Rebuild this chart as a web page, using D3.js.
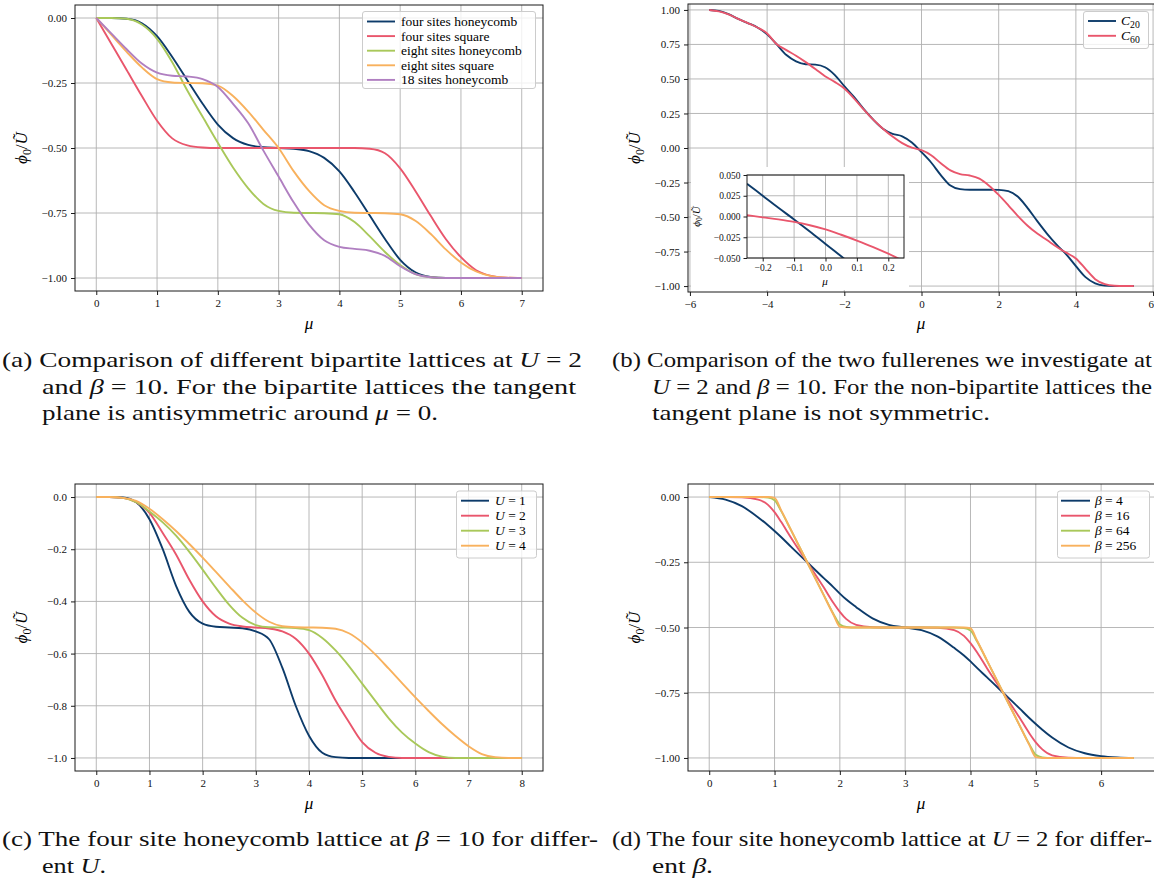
<!DOCTYPE html>
<html><head><meta charset="utf-8">
<script src="https://cdn.jsdelivr.net/npm/d3@7"></script>
<style>body{margin:0;background:#fff}svg{display:block}svg text{font-family:"Liberation Serif","Times New Roman",serif}</style>
</head><body><svg id="fig" width="1154" height="884"></svg>
<script>
// ---------------- DATA ----------------
// Panel (a): bipartite lattices, U = 2, beta = 10
const muA = [0,0.25,0.5,0.75,1,1.25,1.5,1.75,2,2.25,2.5,2.75,3,3.25,3.5,3.75,4,4.25,4.5,4.75,5,5.25,5.5,5.75,6,6.25,6.5,6.75,7];
const namesA = ["four sites honeycomb","four sites square","eight sites honeycomb","eight sites square","18 sites honeycomb"];
const fourHoneycomb = [0,0,-0.003,-0.02,-0.07,-0.15,-0.24,-0.33,-0.41,-0.462,-0.488,-0.497,-0.5,-0.503,-0.512,-0.538,-0.59,-0.67,-0.76,-0.85,-0.93,-0.978,-0.996,-1,-1,-1,-1,-1,-1];
const fourSquare = [0,-0.1,-0.2,-0.3,-0.395,-0.463,-0.49,-0.498,-0.5,-0.5,-0.5,-0.5,-0.5,-0.5,-0.5,-0.5,-0.5,-0.5,-0.503,-0.52,-0.578,-0.665,-0.76,-0.85,-0.92,-0.97,-0.992,-0.999,-1];
const eightHoneycomb = [0,0,-0.003,-0.025,-0.08,-0.17,-0.28,-0.38,-0.48,-0.575,-0.655,-0.715,-0.742,-0.749,-0.75,-0.751,-0.755,-0.785,-0.84,-0.9,-0.95,-0.985,-0.997,-1,-1,-1,-1,-1,-1];
const eightSquare = [0,-0.065,-0.13,-0.19,-0.235,-0.248,-0.25,-0.251,-0.26,-0.3,-0.36,-0.43,-0.5,-0.59,-0.665,-0.72,-0.742,-0.749,-0.75,-0.751,-0.755,-0.78,-0.83,-0.89,-0.94,-0.975,-0.993,-0.999,-1];
const sites18Honeycomb = [0,-0.06,-0.12,-0.175,-0.21,-0.222,-0.225,-0.235,-0.265,-0.33,-0.405,-0.51,-0.61,-0.71,-0.795,-0.855,-0.88,-0.888,-0.895,-0.915,-0.955,-0.985,-0.997,-1,-1,-1,-1,-1,-1];

// Panel (b): fullerenes
const muB = [-5.5,-5.25,-5,-4.75,-4.5,-4.25,-4,-3.75,-3.5,-3.25,-3,-2.75,-2.5,-2.25,-2,-1.75,-1.5,-1.25,-1,-0.75,-0.5,-0.25,0,0.25,0.5,0.75,1,1.25,1.5,1.75,2,2.25,2.5,2.75,3,3.25,3.5,3.75,4,4.25,4.5,4.75,5,5.25,5.5];
const fullereneSizes = ["20","60"];
const c20 = [1,0.993,0.97,0.935,0.905,0.873,0.823,0.75,0.673,0.628,0.607,0.604,0.585,0.53,0.448,0.37,0.283,0.205,0.14,0.103,0.085,0.04,-0.03,-0.105,-0.196,-0.272,-0.298,-0.302,-0.302,-0.302,-0.303,-0.312,-0.353,-0.435,-0.53,-0.62,-0.7,-0.77,-0.855,-0.935,-0.98,-0.997,-1,-1,-1];
const c60 = [1,0.99,0.968,0.935,0.905,0.873,0.83,0.752,0.709,0.668,0.622,0.572,0.52,0.479,0.431,0.36,0.28,0.205,0.14,0.083,0.035,0.002,-0.016,-0.052,-0.11,-0.162,-0.189,-0.199,-0.222,-0.273,-0.34,-0.415,-0.493,-0.563,-0.62,-0.667,-0.715,-0.758,-0.8,-0.875,-0.95,-0.986,-0.998,-1,-1];
// inset of (b)
const muInset20 = [-0.25,-0.2,-0.15,-0.1,-0.05,0,0.05,0.1];
const c20Inset = [0.0395,0.025,0.0105,-0.0035,-0.018,-0.033,-0.048,-0.063];
const muInset60 = [-0.25,-0.2,-0.15,-0.1,-0.05,0,0.05,0.1,0.15,0.2,0.25];
const c60Inset = [0.0016,-0.001,-0.0035,-0.0065,-0.0105,-0.0155,-0.022,-0.029,-0.0365,-0.0448,-0.054];

// Panel (c): four site honeycomb, beta = 10, different U
const muC = [0,0.25,0.5,0.75,1,1.25,1.5,1.75,2,2.25,2.5,2.75,3,3.25,3.5,3.75,4,4.25,4.5,4.75,5,5.25,5.5,5.75,6,6.25,6.5,6.75,7,7.25,7.5,7.75,8];
const uValues = [1,2,3,4];
const u1 = [0,0,-0.002,-0.02,-0.085,-0.2,-0.34,-0.44,-0.485,-0.497,-0.5,-0.503,-0.515,-0.545,-0.655,-0.8,-0.915,-0.98,-0.997,-1,-1,-1,-1,-1,-1,-1,-1,-1,-1,-1,-1,-1,-1];
const u2 = [0,0,-0.003,-0.02,-0.061,-0.138,-0.22,-0.317,-0.4,-0.457,-0.485,-0.496,-0.5,-0.504,-0.515,-0.543,-0.6,-0.683,-0.78,-0.862,-0.939,-0.98,-0.996,-1,-1,-1,-1,-1,-1,-1,-1,-1,-1];
const u3 = [0,0,-0.003,-0.02,-0.055,-0.097,-0.148,-0.21,-0.278,-0.348,-0.413,-0.463,-0.491,-0.499,-0.5,-0.502,-0.51,-0.54,-0.588,-0.648,-0.715,-0.782,-0.848,-0.903,-0.945,-0.978,-0.995,-1,-1,-1,-1,-1,-1];
const u4 = [0,0,-0.003,-0.015,-0.045,-0.085,-0.13,-0.18,-0.232,-0.287,-0.342,-0.396,-0.443,-0.478,-0.495,-0.499,-0.5,-0.501,-0.505,-0.522,-0.557,-0.604,-0.658,-0.713,-0.768,-0.82,-0.87,-0.915,-0.955,-0.985,-0.997,-1,-1];

// Panel (d): four site honeycomb, U = 2, different beta
const muD = [0,0.25,0.5,0.75,0.9,1,1.1,1.25,1.5,1.75,1.9,2,2.1,2.25,2.5,2.75,3,3.25,3.5,3.75,3.9,4,4.1,4.25,4.5,4.75,4.9,5,5.1,5.25,5.5,5.75,6,6.25,6.5];
const betaValues = [4,16,64,256];
const beta4 = [0,-0.01,-0.035,-0.078,-0.108,-0.13,-0.153,-0.19,-0.25,-0.31,-0.345,-0.37,-0.393,-0.422,-0.465,-0.49,-0.5,-0.51,-0.535,-0.578,-0.607,-0.63,-0.655,-0.69,-0.75,-0.81,-0.847,-0.87,-0.892,-0.922,-0.96,-0.982,-0.993,-0.998,-1];
const beta16 = [0,0,-0.001,-0.01,-0.03,-0.058,-0.095,-0.155,-0.25,-0.345,-0.405,-0.44,-0.468,-0.49,-0.499,-0.5,-0.5,-0.5,-0.501,-0.51,-0.532,-0.56,-0.595,-0.655,-0.75,-0.845,-0.905,-0.94,-0.967,-0.99,-0.999,-1,-1,-1,-1];
const beta64 = [0,0,0,0,-0.002,-0.012,-0.053,-0.126,-0.25,-0.374,-0.447,-0.488,-0.498,-0.5,-0.5,-0.5,-0.5,-0.5,-0.5,-0.5,-0.502,-0.512,-0.553,-0.626,-0.75,-0.874,-0.947,-0.988,-0.998,-1,-1,-1,-1,-1,-1];
const beta256 = [0,0,0,0,0,-0.003,-0.05,-0.125,-0.25,-0.375,-0.45,-0.497,-0.5,-0.5,-0.5,-0.5,-0.5,-0.5,-0.5,-0.5,-0.5,-0.503,-0.55,-0.625,-0.75,-0.875,-0.95,-0.997,-1,-1,-1,-1,-1,-1,-1];

// tick values
const xTicksA = [0,1,2,3,4,5,6,7];
const yTicksA = [0,-0.25,-0.5,-0.75,-1];
const xTicksB = [-6,-4,-2,0,2,4,6];
const yTicksB = [1,0.75,0.5,0.25,0,-0.25,-0.5,-0.75,-1];
const xTicksC = [0,1,2,3,4,5,6,7,8];
const yTicksC = [0,-0.2,-0.4,-0.6,-0.8,-1];
const xTicksD = [0,1,2,3,4,5,6];
const yTicksD = [0,-0.25,-0.5,-0.75,-1];
const xTicksInset = [-0.2,-0.1,0,0.1,0.2];
const yTicksInset = [0.05,0.025,0,-0.025,-0.05];

// captions ($...$ = italic math)
const captionA = ["(a) Comparison of different bipartite lattices at $U$ = 2","and $β$ = 10. For the bipartite lattices the tangent","plane is antisymmetric around $μ$ = 0."];
const captionB = ["(b) Comparison of the two fullerenes we investigate at","$U$ = 2 and $β$ = 10. For the non-bipartite lattices the","tangent plane is not symmetric."];
const captionC = ["(c) The four site honeycomb lattice at $β$ = 10 for differ-","ent $U$."];
const captionD = ["(d) The four site honeycomb lattice at $U$ = 2 for differ-","ent $β$."];

// ---------------- DRAWING ----------------
const SERIF = "Liberation Serif, Times New Roman, serif";
const COL = {blue:"#0d3b6a", red:"#e9566c", green:"#a9c85a", orange:"#f8b15d", purple:"#b07fc1"};
const PAL = [COL.blue, COL.red, COL.green, COL.orange, COL.purple];
const svg = d3.select("#fig");
svg.append("rect").attr("width",1154).attr("height",884).attr("fill","#fff");

function rich(t, str){
  str.split("$").forEach((seg,i)=>{ if(seg) t.append("tspan").attr("font-style", i%2 ? "italic" : null).text(seg); });
}
function phiLabel(t, fs){
  t.append("tspan").attr("font-style","italic").text("ϕ");
  t.append("tspan").attr("font-size", fs*0.7).attr("dy", fs*0.22).text("0");
  t.append("tspan").attr("dy", -fs*0.22).text("/");
  t.append("tspan").attr("font-style","italic").text("Ũ");
}

function drawPanel(o){
  const g = svg.append("g");
  const x = d3.scaleLinear().domain(o.xDomain).range([o.left, o.right]);
  const y = d3.scaleLinear().domain(o.yDomain).range([o.bottom, o.top]);
  const cid = "clip-" + o.id;
  svg.append("clipPath").attr("id", cid).append("rect")
    .attr("x", o.left).attr("y", o.top).attr("width", o.right-o.left).attr("height", o.bottom-o.top);
  if (o.bg) g.append("rect").attr("x",o.bg[0]).attr("y",o.bg[1]).attr("width",o.bg[2]).attr("height",o.bg[3]).attr("fill","#fff");
  // grid
  g.append("g").selectAll("line").data(o.xTicks).join("line")
    .attr("x1",d=>x(d)).attr("x2",d=>x(d)).attr("y1",o.top).attr("y2",o.bottom)
    .attr("stroke","#b0b0b0").attr("stroke-width",0.9);
  g.append("g").selectAll("line").data(o.yTicks).join("line")
    .attr("y1",d=>y(d)).attr("y2",d=>y(d)).attr("x1",o.left).attr("x2",o.right)
    .attr("stroke","#b0b0b0").attr("stroke-width",0.9);
  // series
  const line = d3.line().x(d=>x(d[0])).y(d=>y(d[1])).curve(d3.curveMonotoneX);
  o.series.forEach(s=>{
    g.append("path").datum(d3.zip(s.x, s.y)).attr("d", line)
      .attr("fill","none").attr("stroke", s.color).attr("stroke-width", o.lw)
      .attr("stroke-linejoin","round").attr("clip-path", `url(#${cid})`);
  });
  // frame
  g.append("rect").attr("x",o.left).attr("y",o.top).attr("width",o.right-o.left).attr("height",o.bottom-o.top)
    .attr("fill","none").attr("stroke","#1a1a1a").attr("stroke-width",1);
  // axes
  const ax = g.append("g").attr("transform",`translate(0,${o.bottom})`)
    .call(d3.axisBottom(x).tickValues(o.xTicks).tickFormat(o.xFmt).tickSize(o.tick).tickPadding(o.pad));
  const ay = g.append("g").attr("transform",`translate(${o.left},0)`)
    .call(d3.axisLeft(y).tickValues(o.yTicks).tickFormat(o.yFmt).tickSize(o.tick).tickPadding(o.pad));
  [ax, ay].forEach(a=>{
    a.select(".domain").remove();
    a.attr("font-family", SERIF).attr("font-size", o.fs).style("color","#1a1a1a");
    a.selectAll("text").attr("fill","#111");
  });
  // keep a tick label that would cross the right page edge inside it
  ax.selectAll(".tick").filter(d=>x(d) > 1146).select("text").attr("text-anchor","end").attr("x", 1153 - x.range()[1] + 0);
  ax.selectAll(".tick").filter(d=>x(d) > 1146).select("text").attr("x", d=>1153.5 - x(d));
  // labels
  g.append("text").attr("x", o.xLabelX)
    .attr("y", o.xLabelY).attr("text-anchor","middle").attr("font-size", o.labelFs)
    .attr("font-style","italic").text("μ");
  const yl = g.append("text").attr("transform",`translate(${o.yLabelX},${(o.top+o.bottom)/2}) rotate(-90)`)
    .attr("text-anchor","middle").attr("font-size", o.labelFs);
  phiLabel(yl, o.labelFs);
  // legend
  if (o.legend){
    const L = o.legend;
    const lg = g.append("g");
    lg.append("rect").attr("x",L.x).attr("y",L.y).attr("width",L.w).attr("height",L.h).attr("rx",2.5)
      .attr("fill","#fff").attr("fill-opacity",0.8).attr("stroke","#cccccc").attr("stroke-width",1);
    o.series.forEach((s,i)=>{
      const yy = L.y0 + i*L.dy;
      lg.append("line").attr("x1",L.lx1).attr("x2",L.lx2).attr("y1",yy).attr("y2",yy)
        .attr("stroke",s.color).attr("stroke-width",o.lw);
      const t = lg.append("text").attr("x",L.tx).attr("y",yy).attr("dy","0.33em").attr("font-size",L.fs);
      s.label(t);
    });
  }
  return {x,y};
}

const zipSeries = (xs, ys, labels) => ys.map((yv,i)=>({x:xs, y:yv, color:PAL[i], label:labels[i]}));
const fmtInt = d3.format("d"), fmt2 = d3.format(".2f"), fmt1 = d3.format(".1f"), fmt3 = d3.format(".3f");

// Panel (a)
drawPanel({id:"a", left:75, right:543, top:5, bottom:291, xDomain:[-0.35,7.35], yDomain:[-1.05,0.05],
  xTicks:xTicksA, yTicks:yTicksA, xFmt:fmtInt, yFmt:fmt2, tick:4, pad:4, fs:11, lw:1.9, labelFs:17,
  xLabelX:309, xLabelY:329, yLabelX:27,
  series: zipSeries(muA, [fourHoneycomb,fourSquare,eightHoneycomb,eightSquare,sites18Honeycomb],
    namesA.map(n=>t=>t.text(n))),
  legend:{x:362.5,y:11.5,w:173,h:77,y0:21.5,dy:14.6,lx1:367,lx2:395,tx:401,fs:13.5}
});

// Panel (b)
drawPanel({id:"b", left:688, right:1155, top:4, bottom:292, xDomain:[-6.05,6.05], yDomain:[-1.043,1.043],
  xTicks:xTicksB, yTicks:yTicksB, xFmt:fmtInt, yFmt:fmt2, tick:4, pad:4, fs:11, lw:1.9, labelFs:17,
  xLabelX:921, xLabelY:329, yLabelX:640,
  series: zipSeries(muB, [c20,c60], fullereneSizes.map(n=>t=>{
    t.append("tspan").attr("font-style","italic").text("C");
    t.append("tspan").attr("font-size","0.72em").attr("dy","0.25em").text(n);
  })),
  legend:{x:1083.5,y:11.5,w:65,h:37,y0:21,dy:14.8,lx1:1088,lx2:1116,tx:1121,fs:13.5}
});

// Inset of (b)
drawPanel({id:"inset", left:747, right:904, top:175, bottom:258, xDomain:[-0.25,0.25], yDomain:[-0.05,0.05],
  xTicks:xTicksInset, yTicks:yTicksInset, xFmt:fmt1, yFmt:fmt3, tick:3.5, pad:3, fs:9.5, lw:1.9, labelFs:11,
  xLabelX:825, xLabelY:285, yLabelX:700, bg:[691,167,218,123],
  series:[{x:muInset20, y:c20Inset, color:PAL[0]}, {x:muInset60, y:c60Inset, color:PAL[1]}]
});

// Panel (c)
drawPanel({id:"c", left:75, right:543, top:484, bottom:771, xDomain:[-0.4,8.4], yDomain:[-1.05,0.05],
  xTicks:xTicksC, yTicks:yTicksC, xFmt:fmtInt, yFmt:fmt1, tick:4, pad:4, fs:11, lw:1.9, labelFs:17,
  xLabelX:309, xLabelY:809, yLabelX:27,
  series: zipSeries(muC, [u1,u2,u3,u4], uValues.map(v=>t=>{
    t.append("tspan").attr("font-style","italic").text("U");
    t.append("tspan").text(" = " + v);
  })),
  legend:{x:456.5,y:491,w:80,h:67,y0:500.7,dy:15,lx1:461,lx2:489,tx:495,fs:13.5}
});

// Panel (d)
drawPanel({id:"d", left:688, right:1155, top:484, bottom:771, xDomain:[-0.325,6.825], yDomain:[-1.05,0.05],
  xTicks:xTicksD, yTicks:yTicksD, xFmt:fmtInt, yFmt:fmt2, tick:4, pad:4, fs:11, lw:1.9, labelFs:17,
  xLabelX:921, xLabelY:809, yLabelX:640,
  series: zipSeries(muD, [beta4,beta16,beta64,beta256], betaValues.map(v=>t=>{
    t.append("tspan").attr("font-style","italic").text("β");
    t.append("tspan").text(" = " + v);
  })),
  legend:{x:1057.5,y:491,w:92,h:67,y0:500.7,dy:15,lx1:1061,lx2:1090,tx:1095,fs:13.5}
});

// captions (right-column lines that would run past the page edge are fitted inside it)
function caption(lines, x0, indent, y0, widths){
  lines.forEach((ln,i)=>{
    const t = svg.append("text").attr("x", i===0 ? x0 : indent).attr("y", y0 + i*26.5)
      .attr("font-size", 22).attr("fill","#111");
    if (widths[i]) t.attr("textLength", widths[i]).attr("lengthAdjust","spacingAndGlyphs");
    rich(t, ln);
  });
}
caption(captionA, 2, 42, 367, [580, 534, 396]);
caption(captionB, 612, 652, 367, [540, 500, 338]);
caption(captionC, 2, 42, 846, [596, 64]);
caption(captionD, 612, 652, 846, [540, 61]);
</script></body></html>
